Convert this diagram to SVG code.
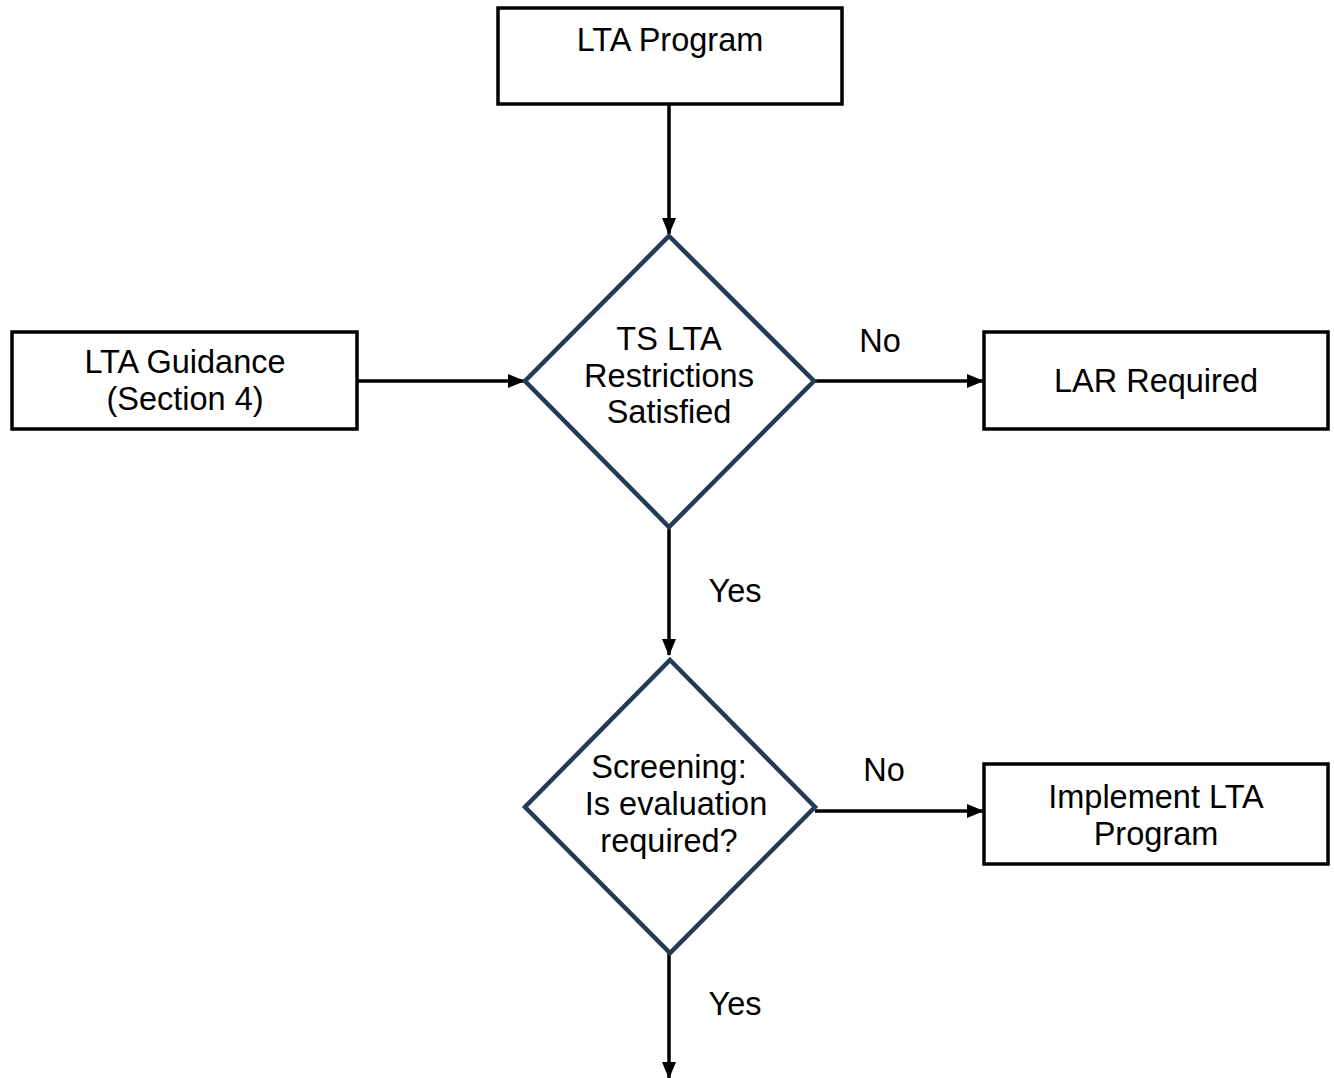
<svg xmlns="http://www.w3.org/2000/svg" width="1334" height="1078" viewBox="0 0 1334 1078">
<style>
.box{fill:#fff;stroke:#000;stroke-width:3.5}
.dia{fill:#fff;stroke:#243a56;stroke-width:4.5;stroke-linejoin:miter}
.t{font-family:"Liberation Sans",Arial,sans-serif;font-size:32.5px;fill:#000;text-anchor:middle}
.c{stroke:#000;stroke-width:3.5;fill:none}
</style>
<defs>
<marker id="ah" markerWidth="17" markerHeight="14" refX="16" refY="7" orient="auto" markerUnits="userSpaceOnUse">
<path d="M0,0 L17,7 L0,14 Z" fill="#000"/>
</marker>
</defs>
<rect width="1334" height="1078" fill="#fff"/>
<g id="connectors">
<line class="c" x1="669" y1="105" x2="669" y2="234" marker-end="url(#ah)"/>
<line class="c" x1="357" y1="381" x2="524" y2="381" marker-end="url(#ah)"/>
<line class="c" x1="815" y1="381" x2="983" y2="381" marker-end="url(#ah)"/>
<line class="c" x1="669" y1="528" x2="669" y2="655" marker-end="url(#ah)"/>
<line class="c" x1="815" y1="811" x2="983" y2="811" marker-end="url(#ah)"/>
<line class="c" x1="669" y1="953" x2="669" y2="1078" marker-end="url(#ah)"/>
<text class="t" x="880" y="352">No</text>
<text class="t" x="735" y="602">Yes</text>
<text class="t" x="884" y="781">No</text>
<text class="t" x="735" y="1015">Yes</text>
</g>
<g id="lta-program">
<rect class="box" x="498" y="8" width="344" height="96"/>
<text class="t" x="670" y="51">LTA Program</text>
</g>
<g id="lta-guidance">
<rect class="box" x="12" y="332" width="345" height="97"/>
<text class="t" x="185" y="373">LTA Guidance</text>
<text class="t" x="185" y="410">(Section 4)</text>
</g>
<g id="ts-restrictions">
<polygon class="dia" points="669,236 814,381 669,527 525,381"/>
<text class="t" x="669" y="350">TS LTA</text>
<text class="t" x="669" y="387">Restrictions</text>
<text class="t" x="669" y="423">Satisfied</text>
</g>
<g id="lar-required">
<rect class="box" x="984" y="332" width="344" height="97"/>
<text class="t" x="1156" y="392">LAR Required</text>
</g>
<g id="screening">
<polygon class="dia" points="670,660 815,807 670,953 525,807"/>
<text class="t" x="669" y="778">Screening:</text>
<text class="t" x="676" y="815">Is evaluation</text>
<text class="t" x="669" y="852">required?</text>
</g>
<g id="implement">
<rect class="box" x="984" y="764" width="344" height="100"/>
<text class="t" x="1156" y="808">Implement LTA</text>
<text class="t" x="1156" y="845">Program</text>
</g>
</svg>
